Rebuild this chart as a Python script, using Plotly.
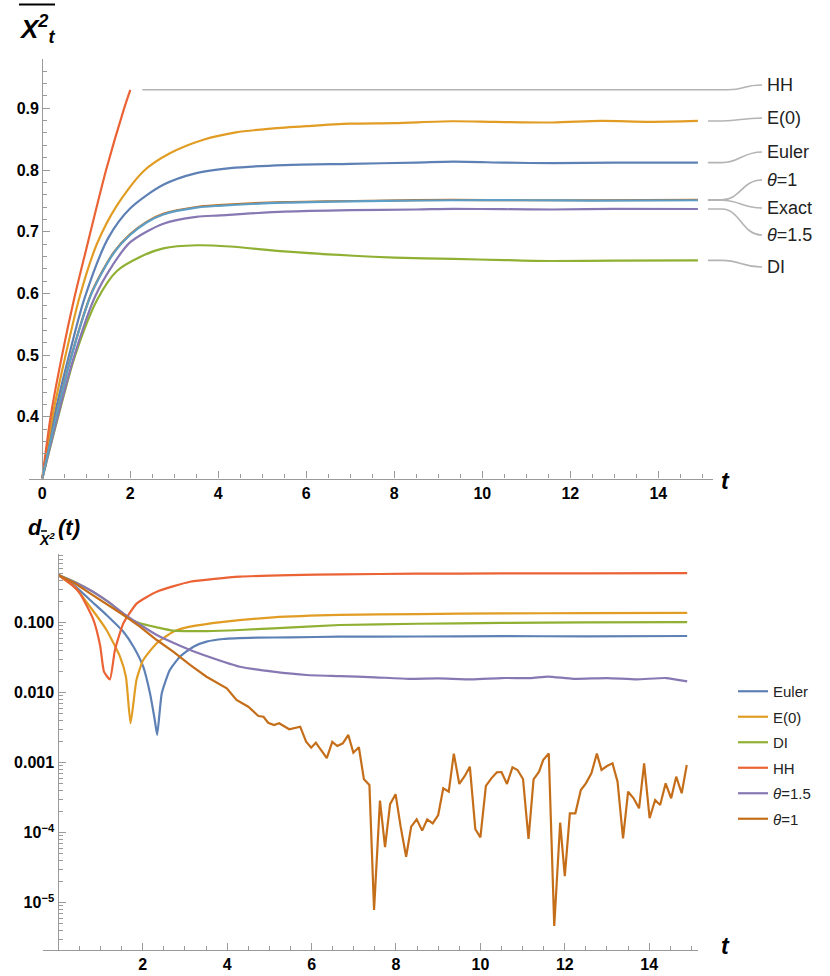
import plotly.graph_objects as go

W, H = 830, 976

# ---------------- top panel data (mean of X^2) ----------------
hh_t = [0, 0.2, 0.45, 0.72, 1.0, 1.45, 1.86, 2.0]
hh_v = [0.300, 0.405, 0.500, 0.590, 0.672, 0.800, 0.900, 0.930]

e0_t = [0, 0.23, 0.53, 0.85, 1.24, 1.69, 2.3, 2.9, 3.66, 4.4, 5.2, 6.0, 7.0, 8.0, 9.3, 10.3, 11.6, 12.7, 13.8, 14.9]
e0_v = [0.300, 0.400, 0.500, 0.595, 0.680, 0.742, 0.798, 0.827, 0.849, 0.861, 0.867, 0.871, 0.875, 0.876, 0.879, 0.878, 0.877, 0.8795, 0.878, 0.8795]

eu_t = [0, 0.27, 0.61, 0.95, 1.5, 2.0, 2.75, 3.5, 4.27, 5.5, 7.0, 8.5, 9.34, 10.5, 11.6, 13.0, 14.9]
eu_v = [0.300, 0.400, 0.500, 0.590, 0.690, 0.738, 0.776, 0.795, 0.803, 0.808, 0.810, 0.812, 0.8135, 0.812, 0.811, 0.812, 0.812]

ex_t = [0, 0.33, 0.69, 1.12, 1.62, 2.0, 2.37, 2.75, 3.5, 4.0, 5.5, 7.8, 9.3, 11.0, 12.5, 14.9]
ex_v = [0.300, 0.405, 0.505, 0.600, 0.665, 0.695, 0.715, 0.728, 0.739, 0.742, 0.747, 0.750, 0.751, 0.751, 0.7505, 0.751]

th1_t = [0, 0.33, 0.69, 1.12, 1.62, 2.0, 2.37, 2.75, 3.5, 4.0, 5.5, 7.8, 9.3, 11.0, 12.5, 14.9]
th1_v = [0.300, 0.406, 0.506, 0.601, 0.666, 0.696, 0.716, 0.729, 0.740, 0.743, 0.748, 0.7505, 0.7515, 0.751, 0.751, 0.7515]

th15_t = [0, 0.36, 0.74, 1.2, 1.6, 2.0, 2.75, 3.5, 4.04, 5.5, 7.0, 8.5, 9.34, 10.5, 11.6, 13.0, 14.9]
th15_v = [0.300, 0.403, 0.502, 0.595, 0.646, 0.683, 0.713, 0.724, 0.7265, 0.7325, 0.735, 0.736, 0.737, 0.7365, 0.736, 0.737, 0.7368]

di_t = [0, 0.36, 0.74, 1.25, 1.69, 2.22, 2.75, 3.51, 4.27, 5.5, 7.07, 8.0, 9.34, 10.5, 11.6, 13.0, 14.9]
di_v = [0.300, 0.400, 0.498, 0.590, 0.636, 0.659, 0.673, 0.678, 0.676, 0.668, 0.661, 0.658, 0.6558, 0.654, 0.6525, 0.653, 0.6536]

# ---------------- bottom panel data (distance d(t), log scale) ----------------
d_hh_t = [0, 0.3, 0.51, 0.83, 0.99, 1.08, 1.22, 1.34, 1.54, 1.86, 2.33, 3.12, 4.3, 5.5, 6.67, 8.5, 10.5, 12.5, 14.9]
d_hh_v = [0.480, 0.355, 0.263, 0.110, 0.0468, 0.0200, 0.0155, 0.0407, 0.098, 0.189, 0.277, 0.385, 0.454, 0.479, 0.491, 0.501, 0.506, 0.508, 0.511]

d_e0_t = [0, 0.4, 0.75, 1.14, 1.46, 1.60, 1.71, 1.85, 2.01, 2.33, 2.72, 3.12, 3.91, 5.09, 6.67, 8.5, 10.5, 12.5, 14.9]
d_e0_v = [0.480, 0.316, 0.169, 0.0787, 0.0327, 0.0169, 0.00366, 0.0152, 0.0293, 0.0508, 0.0743, 0.0877, 0.103, 0.119, 0.129, 0.133, 0.136, 0.137, 0.138]

d_eu_t = [0, 0.4, 0.75, 1.14, 1.54, 1.78, 2.01, 2.17, 2.29, 2.34, 2.45, 2.64, 2.88, 3.2, 3.51, 3.91, 4.7, 5.49, 6.67, 8.5, 10.5, 12.5, 14.9]
d_eu_v = [0.480, 0.331, 0.211, 0.129, 0.0743, 0.0454, 0.0235, 0.0098, 0.00385, 0.00249, 0.0098, 0.0211, 0.0327, 0.0454, 0.0536, 0.0585, 0.0611, 0.0618, 0.0631, 0.0635, 0.0643, 0.0638, 0.0646]

d_di_t = [0, 0.4, 0.75, 1.2, 1.62, 1.93, 2.33, 2.72, 3.51, 4.3, 5.09, 6.67, 8.5, 10.5, 12.5, 14.9]
d_di_v = [0.480, 0.380, 0.292, 0.195, 0.119, 0.098, 0.0859, 0.0769, 0.0760, 0.0787, 0.0832, 0.0927, 0.0966, 0.0993, 0.101, 0.102]

d_th15_t = [0, 0.4, 0.75, 1.2, 1.62, 2.33, 3.12, 3.91, 4.3, 5.09, 5.88, 6.67, 7.5, 8.3, 9.0, 9.8, 10.5, 11.2, 11.6, 12.2, 13.0, 13.7, 14.4, 14.9]
d_th15_v = [0.480, 0.376, 0.293, 0.195, 0.125, 0.0667, 0.0407, 0.0277, 0.0235, 0.0200, 0.0179, 0.0173, 0.0166, 0.0158, 0.0160, 0.0155, 0.0162, 0.0162, 0.0170, 0.0158, 0.0162, 0.0155, 0.0162, 0.0145]

d_th1_t = [0, 0.4, 0.75, 1.15, 1.54, 1.93, 2.33, 2.72, 3.12, 3.51, 3.99, 4.22, 4.50, 4.74, 4.86, 4.97, 5.11, 5.23, 5.47, 5.73,
           5.87, 5.99, 6.10, 6.36, 6.49, 6.61, 6.74, 6.87, 6.99, 7.12, 7.24, 7.37, 7.48, 7.62, 7.74, 7.86, 7.99, 8.11, 8.24, 8.36,
           8.49, 8.62, 8.74, 8.87, 9.00, 9.12, 9.25, 9.37, 9.50, 9.63, 9.75, 9.88, 10.0, 10.13, 10.26, 10.39, 10.5, 10.63, 10.76, 10.88,
           11.01, 11.14, 11.26, 11.39, 11.49, 11.62, 11.75, 11.89, 12.0, 12.12, 12.25, 12.38, 12.5, 12.63, 12.76, 12.87, 13.0, 13.13, 13.25, 13.38,
           13.5, 13.63, 13.76, 13.88, 14.01, 14.14, 14.26, 14.39, 14.52, 14.64, 14.77, 14.89]
d_th1_v = [0.480, 0.363, 0.263, 0.186, 0.129, 0.0877, 0.0566, 0.0385, 0.0249, 0.0169, 0.01156, 0.00787, 0.00631, 0.00465, 0.00454, 0.00372, 0.00346, 0.00366, 0.00300, 0.00327,
           0.00200, 0.00164, 0.00193, 0.00116, 0.00198, 0.00173, 0.00189, 0.00249, 0.00139, 0.00166, 5.79e-4, 4.80e-4, 7.87e-6, 2.88e-4, 6.24e-5, 2.56e-4, 3.55e-4, 1.22e-4, 4.54e-5, 1.22e-4,
           1.55e-4, 1.07e-4, 1.55e-4, 1.36e-4, 1.79e-4, 4.31e-4, 3.85e-4, 1.35e-3, 4.97e-4, 6.46e-4, 8.77e-4, 1.12e-4, 8.59e-5, 4.65e-4, 5.98e-4, 7.29e-4, 7.36e-4, 4.97e-4, 8.59e-4, 7.87e-4,
           5.85e-4, 8.13e-5, 5.79e-4, 7.43e-4, 1.10e-3, 1.35e-3, 4.65e-6, 1.39e-4, 2.40e-5, 1.89e-4, 1.89e-4, 4.07e-4, 5.08e-4, 7.06e-4, 1.35e-3, 7.87e-4, 8.97e-4, 9.79e-4, 5.36e-4, 8.32e-5,
           3.85e-4, 3.10e-4, 2.23e-4, 9.79e-4, 1.61e-4, 2.93e-4, 2.49e-4, 5.08e-4, 3.10e-4, 6.31e-4, 3.66e-4, 9.27e-4]

# ---------------- style ----------------
C_EU, C_E0, C_DI, C_HH = "#5E81B5", "#E19C24", "#8FB032", "#EB6235"
C_T15, C_T1, C_EX = "#8778B3", "#C56E1A", "#5D9EC7"
AX = "#9a9a9a"
FONT = "Liberation Sans"

# pixel geometry of panels
TX0, TPX = 42.3, 44.0          # top: px of t=0, px per unit t
TY09, TPY = 108.3, 617.0       # top: py of 0.9, px per unit value
TXR = [-0.3, 15.25]
TYR = [0.30, 0.98]
BX0, BPX = 58.4, 42.2
BY01, BPD = 622.7, 70.0        # bottom: py of 0.1, px per decade
BXR = [-0.36, 15.16]
BYR = [-5.677, -0.019]

def tpx(t): return TX0 + TPX * t
def tpy(v): return TY09 + (0.9 - v) * TPY
def fx(px): return px / W
def fy(py): return 1 - py / H

fig = go.Figure()

top_series = [
    ("Euler", eu_t, eu_v, C_EU), ("E(0)", e0_t, e0_v, C_E0), ("DI", di_t, di_v, C_DI),
    ("HH", hh_t, hh_v, C_HH), ("θ=1.5", th15_t, th15_v, C_T15), ("θ=1", th1_t, th1_v, C_T1),
    ("Exact", ex_t, ex_v, C_EX),
]
for name, t, v, c in top_series:
    fig.add_trace(go.Scatter(x=t, y=v, mode="lines", name=name, showlegend=False,
                             line=dict(color=c, width=2.2, shape="spline", smoothing=0.8),
                             xaxis="x", yaxis="y"))

bot_series = [
    ("Euler", d_eu_t, d_eu_v, C_EU, "spline"), ("E(0)", d_e0_t, d_e0_v, C_E0, "spline"),
    ("DI", d_di_t, d_di_v, C_DI, "spline"), ("HH", d_hh_t, d_hh_v, C_HH, "spline"),
    ("<i>θ</i>=1.5", d_th15_t, d_th15_v, C_T15, "spline"), ("<i>θ</i>=1", d_th1_t, d_th1_v, C_T1, "linear"),
]
for i, (name, t, v, c, sh) in enumerate(bot_series):
    ln = dict(color=c, width=2.2, shape=sh)
    if sh == "spline":
        ln["smoothing"] = 0.5
    fig.add_trace(go.Scatter(x=t, y=v, mode="lines", name=name, line=ln, legendgroup=f"g{i}",
                             xaxis="x2", yaxis="y2"))

tickfont = dict(family=FONT, size=16, color="black", weight=700)
axcommon = dict(showgrid=False, zeroline=False, showline=True, linecolor=AX, linewidth=1.3,
                ticks="inside", tickcolor=AX, tickwidth=1.2, tickfont=tickfont)

log_minor = []
for d in range(-6, 0):
    for k in range(2, 10):
        val = k * 10.0 ** d
        if 10 ** BYR[0] <= val <= 10 ** BYR[1]:
            log_minor.append(val)

fig.update_layout(
    width=W, height=H, margin=dict(l=0, r=0, t=0, b=0),
    paper_bgcolor="white", plot_bgcolor="white",
    xaxis=dict(axcommon, range=TXR, domain=[fx(tpx(TXR[0])), fx(tpx(TXR[1]))], anchor="y",
               tickvals=[0, 2, 4, 6, 8, 10, 12, 14], ticklen=7,
               minor=dict(ticks="inside", dtick=0.5, tick0=0, ticklen=4, tickcolor=AX, tickwidth=1)),
    yaxis=dict(axcommon, range=TYR, domain=[fy(tpy(TYR[0])), fy(tpy(TYR[1]))], anchor="free",
               position=fx(TX0), tickvals=[0.4, 0.5, 0.6, 0.7, 0.8, 0.9], ticktext=["0.4", "0.5", "0.6", "0.7", "0.8", "0.9"],
               ticklen=7, minor=dict(ticks="inside", dtick=0.02, tick0=0.3, ticklen=4, tickcolor=AX, tickwidth=1)),
    xaxis2=dict(axcommon, range=BXR, domain=[fx(BX0 + BPX * BXR[0]), fx(BX0 + BPX * BXR[1])], anchor="y2",
                tickvals=[2, 4, 6, 8, 10, 12, 14], ticklen=7,
                minor=dict(ticks="inside", dtick=0.5, tick0=0, ticklen=4, tickcolor=AX, tickwidth=1)),
    yaxis2=dict(axcommon, type="log", range=BYR,
                domain=[fy(BY01 - (BYR[0] + 1) * BPD), fy(BY01 - (BYR[1] + 1) * BPD)],
                anchor="free", position=fx(57.5),
                tickvals=[1e-5, 1e-4, 1e-3, 1e-2, 1e-1],
                ticktext=["10<sup>−5</sup>", "10<sup>−4</sup>", "0.001", "0.010", "0.100"],
                ticklen=7, minor=dict(ticks="inside", tickvals=log_minor, ticklen=4, tickcolor=AX, tickwidth=1)),
    legend=dict(x=fx(733), y=fy(675), xanchor="left", yanchor="top", bgcolor="rgba(0,0,0,0)",
                font=dict(family=FONT, size=15, color="#222"), traceorder="grouped", tracegroupgap=3),
    showlegend=True,
)

# ---- axis labels ----
ann = []
ann.append(dict(x=fx(17), y=fy(29), xref="paper", yref="paper", xanchor="left", yanchor="middle",
                text="<b><i>X<sup>2</sup><sub>t</sub></i></b>", showarrow=False,
                font=dict(family=FONT, size=26, color="black")))
ann.append(dict(x=fx(26), y=fy(527), xref="paper", yref="paper", xanchor="left", yanchor="middle",
                text="<b><i>d</i></b>", showarrow=False, font=dict(family=FONT, size=22, color="black")))
ann.append(dict(x=fx(37), y=fy(539), xref="paper", yref="paper", xanchor="left", yanchor="middle",
                text="<b><i>X<sup>2</sup></i></b>", showarrow=False, font=dict(family=FONT, size=14, color="black")))
ann.append(dict(x=fx(56), y=fy(527), xref="paper", yref="paper", xanchor="left", yanchor="middle",
                text="<b><i>(t)</i></b>", showarrow=False, font=dict(family=FONT, size=22, color="black")))
for py in (481, 946):
    ann.append(dict(x=fx(725), y=fy(py), xref="paper", yref="paper", xanchor="center", yanchor="middle",
                    text="<b><i>t</i></b>", showarrow=False, font=dict(family=FONT, size=23, color="black")))

# ---- callout labels for top panel ----
callouts = [
    ("HH", hh_v[-1], 85, True),
    ("E(0)", e0_v[-1], 118, False),
    ("Euler", eu_v[-1], 152, False),
    ("<i>θ</i>=1", th1_v[-1], 180, False),
    ("Exact", ex_v[-1], 208, False),
    ("<i>θ</i>=1.5", th15_v[-1], 235, False),
    ("DI", di_v[-1], 267, False),
]
shapes = []
# overline on X^2 (top title) and small bar over X in the bottom title
shapes.append(dict(type="line", xref="paper", yref="paper", x0=fx(19), x1=fx(55), y0=fy(4.5), y1=fy(4.5),
                   line=dict(color="black", width=2.2)))
shapes.append(dict(type="line", xref="paper", yref="paper", x0=fx(41), x1=fx(47), y0=fy(531), y1=fy(531),
                   line=dict(color="black", width=1.5)))
for text, vend, ly, is_hh in callouts:
    y0 = tpy(vend)
    x0 = tpx(hh_t[-1]) + 12 if is_hh else tpx(14.9) + 10
    xa = 728 if is_hh else 722
    xb = 762
    path = (f"M {fx(x0)},{fy(y0)} L {fx(xa)},{fy(y0)} "
            f"C {fx(xa + 18)},{fy(y0)} {fx(xb - 20)},{fy(ly)} {fx(xb)},{fy(ly)}")
    shapes.append(dict(type="path", xref="paper", yref="paper", path=path,
                       line=dict(color="#b4b4b4", width=1.6)))
    ann.append(dict(x=fx(765), y=fy(ly), xref="paper", yref="paper", xanchor="left", yanchor="middle",
                    text=text, showarrow=False, font=dict(family=FONT, size=18, color="#222")))

fig.update_layout(annotations=ann, shapes=shapes)
fig.write_html("out.html", config={"displayModeBar": False},
               post_script="document.body.style.margin='0';document.body.style.overflow='hidden';")
